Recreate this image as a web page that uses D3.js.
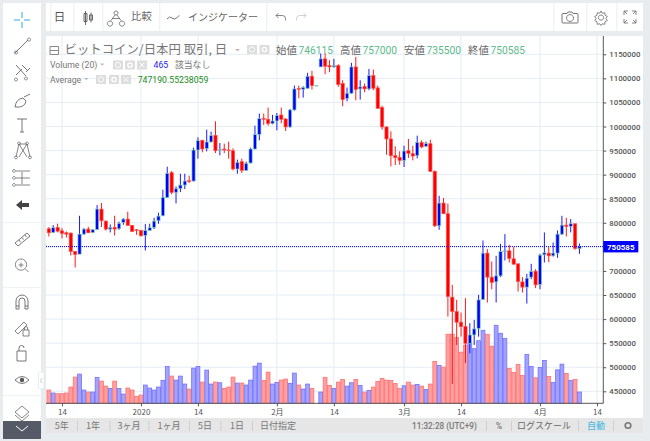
<!DOCTYPE html>
<html><head><meta charset="utf-8">
<script src="https://cdn.jsdelivr.net/npm/d3@7/dist/d3.min.js"></script>
<style>html,body{margin:0;padding:0;background:#fff;overflow:hidden}svg{display:block}</style>
</head><body><svg id="c" width="650" height="441"></svg>
<script>
const startDate = "2019-12-11";
const opens = [787600,780000,790400,783400,779300,778600,740400,734900,776500,786900,
780000,786200,828500,803500,786900,790400,787600,800800,807700,794500,
785500,784100,773700,784100,790400,804200,814600,852800,904100,863200,
870800,878400,887400,886700,951200,971300,954000,967900,981700,950500,
953300,951200,949800,911700,927000,908900,924200,953300,983100,1016400,
1015000,1006000,1011500,1024000,1015700,999100,1034400,1078800,1077400,1079500,
1104400,1084300,1123800,1140500,1126600,1123800,1126600,1089200,1058000,1069100,
1123800,1078100,1082900,1078100,1105800,1080200,1039300,999100,974100,939400,
936000,929700,949800,943600,939400,966500,958800,964400,906800,793800,
841000,818800,645500,615600,593500,584400,549800,567100,580300,640600,
737000,687100,677300,689800,740400,741800,725200,714800,677300,666300,
687100,699500,671800,733500,737000,731400,737000,776500,795200,792400,
798000,746115];
const highs = [791100,795200,798000,789000,782000,780000,740400,814600,789000,791800,
786900,836800,841000,804900,796600,814600,802200,809800,823000,795200,
786900,785500,797300,798000,810500,820900,868700,916500,907500,875600,
902000,902000,897800,956100,977600,972700,993500,989300,1010800,965800,
964400,968500,954700,931100,933200,927000,956100,1001800,1026800,1026800,
1039300,1024000,1028200,1039300,1017100,1036500,1085000,1085000,1083600,1111400,
1115500,1085000,1151600,1151600,1137700,1140500,1129400,1096100,1080900,1132200,
1144600,1096100,1089200,1119700,1118300,1085000,1043400,1000400,990000,958800,
948400,960200,974100,960200,981000,971300,968500,972700,908900,856200,
851400,839600,671100,640000,613500,643400,591400,598300,650300,763300,
745300,719600,731400,756400,776500,754300,749500,714800,687100,694000,
714800,703700,735600,780000,749500,759200,784100,814600,810500,807700,
798000,757000];
const lows = [771600,778600,780000,767500,769600,732100,707200,734900,775100,778600,
778600,784800,791100,784100,780000,773700,785500,795900,794500,781400,
775100,771600,742500,783400,786900,798000,813900,851400,859000,840300,
863900,870100,882600,886000,933200,946400,948400,967200,945000,940100,
945000,933200,908900,902000,903400,908200,923500,952600,971300,1003200,
1001800,1004600,992100,1006700,990700,997700,1033000,1058700,1060100,1078100,
1076700,1084300,1123800,1108600,1112800,1122500,1082300,1042000,1052400,1067700,
1054500,1055900,1071200,1075300,1075300,1036500,993500,941500,917200,920000,
920700,915900,934600,929700,933900,955400,957500,906800,791100,785500,
818800,605200,465200,546300,563600,508900,529000,546300,563600,639900,
634400,662100,634400,687100,721700,717600,712700,657200,655200,632300,
682900,664200,662100,717600,718300,730000,727300,774400,771600,780000,
743900,735500];
const closes = [779300,789700,782700,777900,776500,740400,734200,776500,786900,779300,
785500,828500,804200,786900,790400,786900,798700,807700,794500,782000,
784100,773000,784100,789700,803500,813900,852800,902700,863200,870800,
878400,886700,886000,951200,970600,953300,967900,981000,949800,951900,
951200,949800,911700,925600,908900,923500,953300,983100,1016400,1015000,
1006000,1011500,1022600,1015000,999100,1034400,1078100,1077400,1080900,1104400,
1085000,1085000,1140500,1125200,1123800,1126600,1087100,1055900,1069100,1123800,
1076700,1082300,1078100,1105800,1079500,1037900,999100,974100,939400,935300,
929700,949100,944300,938700,967200,957500,964400,906800,793800,841000,
818800,646800,615600,593500,584400,549800,567100,579600,639900,737000,
687100,676000,689800,740400,741800,725900,714100,678000,666300,685000,
698800,671100,732800,737700,731400,737000,776500,795200,792400,798000,
746700,750585];
const volumes = [545,422,394,394,422,668,1078,1201,545,463,
463,1064,914,709,613,914,613,381,627,545,
285,340,750,627,545,668,941,1515,1119,955,
1119,791,586,1447,1515,873,1365,791,873,845,
613,668,1078,832,832,750,955,1529,1652,941,
1283,791,859,955,996,818,1242,750,586,791,
613,0,462,1064,736,613,872,982,708,845,
982,736,462,531,667,900,1023,954,941,818,
613,722,872,749,777,708,572,790,1720,1556,
1488,2841,2841,2706,2103,2390,2460,2247,2575,3005,
2841,2349,3210,2882,2665,1435,1271,1597,1146,2007,
1515,1050,1474,1761,1105,859,1378,1611,1228,941,
982,465];
const priceTicks = [450000,500000,550000,600000,650000,700000,750000,800000,850000,900000,950000,1000000,1050000,1100000,1150000];
const hiddenPriceLabel = 750000;
const dateTicks = ["2019-12-14","2020-01-01","2020-01-14","2020-02-01","2020-02-14","2020-03-01","2020-03-14","2020-04-01","2020-04-14"];
const dateTickLabels = ["14","2020","14","2月","14","3月","14","4月","14"];
const lastClose = 750585;
const rangeLabels = ["5年","1年","3ヶ月","1ヶ月","5日","1日","日付指定"];
const legendLabels = ["始値","高値","安値","終値"];
const legendValues = ["746115","757000","735500","750585"];
const chartTitle = "ビットコイン/日本円 取引, 日";

const svg = d3.select("#c");
const CJK = "'Noto Sans CJK JP','Noto Sans',sans-serif", LAT = "Roboto,'Noto Sans CJK JP',sans-serif";
const parse = d3.utcParse("%Y-%m-%d");
const dates = opens.map((_, i) => d3.utcDay.offset(parse(startDate), i));
const rows = dates.map((d,i)=>({d,o:opens[i],h:highs[i],l:lows[i],c:closes[i],v:volumes[i]}));

const x = d3.scaleUtc().domain([parse("2019-12-14"),parse("2020-04-14")]).range([62,597]);
const y = d3.scaleLinear().domain([450000,1150000]).range([391.3,54.3]);
const yv = d3.scaleLinear().domain([0,465]).range([403.3,392]);
const dayW = x(parse("2020-01-02"))-x(parse("2020-01-01"));

// frame
svg.append("rect").attr("width",650).attr("height",441).attr("fill","#e9ecef");
const R=(a,b,w,h,f)=>svg.append("rect").attr("x",a).attr("y",b).attr("width",w).attr("height",h).attr("fill",f);
R(3,3,38,418,"#fff");
R(46,3,597,28,"#fff");
R(46,36,597,382,"#fff");
R(46,418,597,15,"#e6e6e6");
[50,73,102,159,266,553,586,616].forEach(s=>R(s,3,1.4,28,"#f0f2f4"));
[222,287,395].forEach(s=>R(3,s,38,1.2,"#f0f2f4"));

// grid
const g = svg.append("g");
g.selectAll(".h").data(priceTicks).join("line").attr("x1",46).attr("x2",603).attr("y1",d=>y(d)).attr("y2",d=>y(d)).attr("stroke","#e4edf4").attr("stroke-width",1);
g.selectAll(".v").data(dateTicks).join("line").attr("x1",d=>x(parse(d))).attr("x2",d=>x(parse(d))).attr("y1",36).attr("y2",403).attr("stroke","#e4edf4").attr("stroke-width",1);

// volume
const vol = svg.append("g");
vol.selectAll("rect").data(rows.filter(r=>r.v>0)).join("rect")
 .attr("x",r=>x(r.d)-dayW/2+.3).attr("width",dayW-.6)
 .attr("y",r=>yv(r.v)).attr("height",r=>yv(0)-yv(r.v))
 .attr("fill",r=>r.c>=r.o?"#a3a3ff":"#ffa0a0")
 .attr("stroke",r=>r.c>=r.o?"#7070ff":"#ff7070").attr("stroke-width",.8);

// candles
const cg = svg.append("g");
cg.selectAll("line").data(rows).join("line")
 .attr("x1",r=>x(r.d)).attr("x2",r=>x(r.d)).attr("y1",r=>y(r.h)).attr("y2",r=>y(r.l))
 .attr("stroke",r=>r.c>=r.o?"#0000ff":"#ff0000").attr("stroke-width",.9);
cg.selectAll("rect").data(rows).join("rect")
 .attr("x",r=>x(r.d)-1.6).attr("width",3.2)
 .attr("y",r=>y(Math.max(r.o,r.c))).attr("height",r=>Math.max(.5,Math.abs(y(r.o)-y(r.c))))
 .attr("fill",r=>r.c>=r.o?"#0000ff":"#ff0000")
 .attr("stroke",r=>r.c>=r.o?"#86d8a8":"#ff5050").attr("stroke-width",.7);

// last price line
svg.append("line").attr("x1",46).attr("x2",603).attr("y1",y(lastClose)).attr("y2",y(lastClose))
 .attr("stroke","#0000ff").attr("stroke-width",1).attr("stroke-dasharray","1 1");

// axes
const yAxis = d3.axisRight(y).tickValues(priceTicks.filter(p=>p!==hiddenPriceLabel)).tickSize(3).tickPadding(3).tickFormat(d3.format("d"));
const ya = svg.append("g").attr("transform","translate(603.3,0)").call(yAxis);
ya.select(".domain").attr("d","M0,36V403.3").attr("stroke","#555").attr("stroke-width",1);
ya.selectAll(".tick line").attr("stroke","#555");
ya.selectAll("text").attr("font-family",LAT).attr("font-size",7.8).attr("font-weight",500).attr("fill","#555");

const xAxis = d3.axisBottom(x).tickValues(dateTicks.map(parse)).tickSize(3).tickPadding(3).tickFormat((d,i)=>dateTickLabels[i]);
const xa = svg.append("g").attr("transform","translate(0,403.3)").call(xAxis);
xa.select(".domain").attr("d","M46,0H603.3").attr("stroke","#555").attr("stroke-width",1);
xa.selectAll(".tick line").attr("stroke","#555");
xa.selectAll("text").attr("font-family",CJK).attr("font-size",8).attr("fill","#555");

// price tag
R(603.3,241,35,11.4,"#0000ff");
svg.append("text").attr("x",607).attr("y",249.6).text(String(lastClose)).attr("font-family",LAT).attr("font-size",8).attr("font-weight",700).attr("fill","#fff");

// text helper
const T=(s,a,b,size,fill,opt={})=>svg.append("text").attr("x",a).attr("y",b).text(s).attr("font-family",opt.f||CJK).attr("font-size",size).attr("fill",fill).attr("text-anchor",opt.a||"start").attr("font-weight",opt.w||400);

// title and legends
T(chartTitle,64.5,54.3,12.4,"#777");
svg.append("path").attr("d","M50,46.5h8.6v8h-8.6zM50,50.5h8.6").attr("fill","none").attr("stroke","#888");
svg.append("path").attr("d","M235,49l2.5,2.5l2.5,-2.5z").attr("fill","#bbb");
const chip=(a,b,kind)=>{
  svg.append("rect").attr("x",a).attr("y",b).attr("width",10).attr("height",9).attr("fill","#ddd");
  if(kind===2) svg.append("path").attr("d",`M${a+2.5},${b+2}l5,5M${a+7.5},${b+2}l-5,5`).attr("stroke","#fff").attr("stroke-width",1);
  else svg.append("circle").attr("cx",a+5).attr("cy",b+4.5).attr("r",kind?2.2:2.6).attr("fill","none").attr("stroke","#fff").attr("stroke-width",kind?1.3:.9);
};
[247,259.5].forEach((a,i)=>chip(a,45,i));
[113,125,137].forEach((a,i)=>chip(a,60.5,i));
[96,109,121].forEach((a,i)=>chip(a,75,i));
[[276,0],[340,1],[404,2],[468,3]].forEach(([a,i])=>{
  T(legendLabels[i],a,54.3,10.4,"#666");
  T(legendValues[i],a+22.6,54.3,10.2,"#5cb98c",{f:LAT});
});
T("Volume (20)",50,67.8,8.7,"#777",{f:LAT});
svg.append("path").attr("d","M100,63.5l2.2,2.2l2.2,-2.2z").attr("fill","#bbb");
T("465",153.5,67.8,8.7,"#1c1cf0",{f:LAT});
T("該当なし",175,68,8.8,"#777");
T("Average",50,82.8,8.7,"#777",{f:LAT});
svg.append("path").attr("d","M84,78l2.2,2.2l2.2,-2.2z").attr("fill","#bbb");
T("747190.55238059",137.7,82.8,8.7,"#1a8a1a",{f:LAT});

// top toolbar
const ink="#666";
const P=(d,w=1,c=ink)=>svg.append("path").attr("d",d).attr("fill","none").attr("stroke",c).attr("stroke-width",w);
T("日",59.5,21,11.5,"#555",{a:"middle"});
P("M85.5,11v14M85.5,13.5h-1.5v8h3v-8zM91,12.5v10M91,15h-1.5v5h3v-5z",.9,"#555");
P("M110,21a2.6,2.6 0 1 0 .01,0M122,21a2.6,2.6 0 1 0 .01,0M116,11a2,2 0 1 0 .01,0M111,20.5l4,-5.5M121,20.5l-4,-5.5M112,18.5h8",.8);
T("比較",131,20.3,10.4,"#666");
P("M167,19q2.5,-3.5 5,-1t5,-.5q1.5,-1.3 2.5,-2",.9);
T("インジケーター",188,20.5,10,"#666");
P("M276,15.5h6.5q3,0 3,3v2M276,15.5l2.5,-2.5M276,15.5l2.5,2.5",.9,"#777");
P("M306,15.5h-6.5q-3,0 -3,3v2M306,15.5l-2.5,-2.5M306,15.5l-2.5,2.5",.9,"#ccc");
P("M563,13.5h4l1,-1.5h4l1,1.5h4q1,0 1,1v7.5q0,1 -1,1h-14q-1,0 -1,-1v-7.5q0,-1 1,-1z",.9);
P("M570,14.5a3.5,3.5 0 1 0 .01,0",.8);
P("M601,11l1.2,2.2l2.5,-.5l.3,2.5l2.3,1.3l-1.4,2l1.4,2l-2.3,1.3l-.3,2.5l-2.5,-.5l-1.2,1.7l-1.2,-1.7l-2.5,.5l-.3,-2.5l-2.3,-1.3l1.4,-2l-1.4,-2l2.3,-1.3l.3,-2.5l2.5,.5z",.8);
P("M601,15a2.6,2.6 0 1 0 .01,0",.8);
P("M624,15v-4h4M624,11l3,3M636,15v-4h-4M636,11l-3,3M624,19v4h4M624,23l3,-3M636,19v4h-4M636,23l-3,-3",.8);

// left toolbar
P("M22,12v6M22,22v6M14,20h6M24,20h6",1,"#35a8e8");
P("M15,53L28,40",.9); P("M16,51a1.6,1.6 0 1 0 .01,0M29,38a1.6,1.6 0 1 0 .01,0",.8);
P("M16,65l10,11M22,65l6,6M16,75l6,-6M26,72l4,-4",.9);
P("M16,78a1.5,1.5 0 1 0 .01,0M26,77a1.5,1.5 0 1 0 .01,0",.8);
P("M15,107q1,-8 8,-9l3,3q-1,7 -11,6zM24,97l6,-3",.9);
P("M17,119h10M22,119v13M20,132h4",.9);
P("M16,157l3,-13l8,0l3,13M19,144l8,13M27,144l-8,13",.8);
P("M16,156a1.4,1.4 0 1 0 .01,0M30,156a1.4,1.4 0 1 0 .01,0M19,142a1.4,1.4 0 1 0 .01,0M27,142a1.4,1.4 0 1 0 .01,0",.8);
P("M16,171h14M16,178h14M16,185h14M22,172v12",.8);
P("M14,169.5a1.4,1.4 0 1 0 .01,0M14,176.5a1.4,1.4 0 1 0 .01,0M14,183.5a1.4,1.4 0 1 0 .01,0",.8);
svg.append("path").attr("d","M16,205l6,-5v3h7v4h-7v3z").attr("fill","#444");
P("M15,243l12,-10l3,3l-12,10zM19,240l1.5,2M22,237.5l1.5,2M25,235l1.5,2",.9);
P("M21,259a5.6,5.6 0 1 0 .01,0M25.5,269l3,3M21,262.5v5M18.5,265h5",.8);
P("M16,309v-8a6,6 0 0 1 12,0v8h-3v-8a3,3 0 0 0 -6,0v8zM16,306h3M25,306h3",.9);
P("M15,331l9,-9l3,3l-9,9zM23,330h6v6h-6zM24.5,330v-2a1.5,1.5 0 0 1 3,0v2",.8);
P("M17,351h9v10h-9zM19,351v-3a2.5,2.5 0 0 1 5,0",.9);
P("M15,380q7,-7 14,0q-7,7 -14,0z",.9);
svg.append("circle").attr("cx",22).attr("cy",380).attr("r",2.2).attr("fill","#555");
P("M15,412l7,-6l7,6l-7,6zM15,415l7,6l7,-6",.8);
R(3,421,38,18,"#555a66");
P("M16,426l6,5l6,-5",1,"#fff");
svg.append("rect").attr("x",38.5).attr("y",372).attr("width",5.5).attr("height",17).attr("rx",2).attr("fill","#fff").attr("stroke","#ddd").attr("stroke-width",.6);
P("M42,378l-1.5,2.5l1.5,2.5",.6,"#aaa");

// bottom bar
const rangeCenters = [61.7,93,129,169,205,237,278];
rangeLabels.forEach((s,i)=>T(s,rangeCenters[i],428.6,9,"#777",{a:"middle"}));
[77,109.5,148.5,189,220.5,252].forEach(s=>R(s,421,.8,10,"#c8c8c8"));
T("11:32:28 (UTC+9)",412,428.5,8.2,"#777",{f:LAT,w:500});
T("%",499,428.5,8.6,"#777",{a:"middle",f:LAT,w:500});
T("ログスケール",544,428.8,9,"#666",{a:"middle"});
T("自動",596,428.8,9,"#4dbbe0",{a:"middle",w:500});
[486,511,578,613].forEach(s=>R(s,421,.8,10,"#c8c8c8"));
svg.append("circle").attr("cx",628).attr("cy",425.5).attr("r",2.8).attr("fill","none").attr("stroke","#777").attr("stroke-width",1.6);
</script></body></html>
